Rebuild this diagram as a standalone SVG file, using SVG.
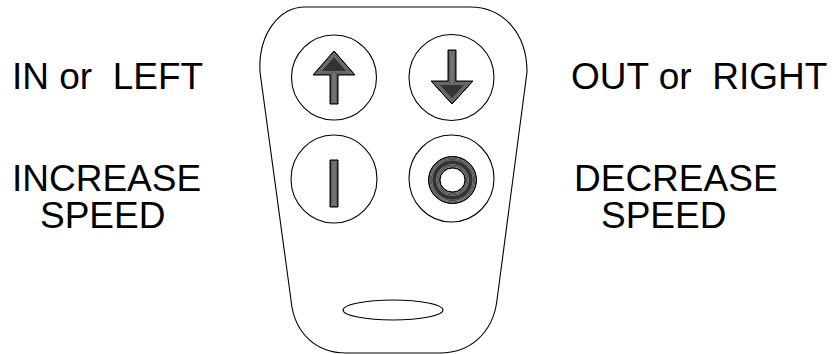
<svg xmlns="http://www.w3.org/2000/svg" xmlns:xlink="http://www.w3.org/1999/xlink" width="836" height="354" viewBox="0 0 836 354">
<style>
.lbl{font-family:"Liberation Sans",Arial,sans-serif;font-size:37px;fill:#000;white-space:pre}
.ol{fill:none;stroke:#000;stroke-width:1.1}
.icon{fill:#333}
.b1{fill:none;stroke:#999;stroke-width:7.6}
.b2{fill:none;stroke:#333;stroke-width:6.4}
.b3{fill:none;stroke:#999;stroke-width:5.2}
.b4{fill:none;stroke:#333;stroke-width:4}
.b5{fill:none;stroke:#999;stroke-width:2.8}
.b6{fill:none;stroke:#222;stroke-width:1.6}
.io{fill:none;stroke:#000;stroke-width:1}
</style>
<defs>
<path id="up" d="M334,51 L355,75 L338,75 L338,104 L330,104 L330,75 L313,75 Z"/>
<path id="down" d="M452,104 L473,81 L456,81 L456,50 L448,50 L448,81 L431,81 Z"/>
<path id="bar" d="M330,160 H338 V207 H330 Z"/>
<path id="ring" fill-rule="evenodd" d="M476.5,180 A24,23.5 0 1 1 428.5,180 A24,23.5 0 1 1 476.5,180 Z M465,180 A12.5,12 0 1 0 440,180 A12.5,12 0 1 0 465,180 Z"/>
<clipPath id="cUp"><use xlink:href="#up"/></clipPath>
<clipPath id="cDown"><use xlink:href="#down"/></clipPath>
<clipPath id="cBar"><use xlink:href="#bar"/></clipPath>
<clipPath id="cRing"><use xlink:href="#ring" clip-rule="evenodd"/></clipPath>
</defs>
<rect width="836" height="354" fill="#fff"/>
<g id="remote">
<path class="ol" d="M305,7 H470 C503,7 527,33 527,72 L497,300 C493,333 470,353 440,353 H346 C316,353 294,333 291,300 L260,72 C258,33 280,7 305,7 Z"/>
<ellipse class="ol" cx="393" cy="310" rx="50" ry="10"/>
</g>
<g id="btn-up">
<ellipse class="ol" cx="334" cy="77.5" rx="42.5" ry="42.5"/>
<g clip-path="url(#cUp)">
<use xlink:href="#up" class="icon"/>
<use xlink:href="#up" class="b1"/><use xlink:href="#up" class="b2"/><use xlink:href="#up" class="b3"/><use xlink:href="#up" class="b4"/><use xlink:href="#up" class="b5"/><use xlink:href="#up" class="b6"/>
</g>
<use xlink:href="#up" class="io"/>
</g>
<g id="btn-down">
<ellipse class="ol" cx="451.5" cy="77.5" rx="42.5" ry="43"/>
<g clip-path="url(#cDown)">
<use xlink:href="#down" class="icon"/>
<use xlink:href="#down" class="b1"/><use xlink:href="#down" class="b2"/><use xlink:href="#down" class="b3"/><use xlink:href="#down" class="b4"/><use xlink:href="#down" class="b5"/><use xlink:href="#down" class="b6"/>
</g>
<use xlink:href="#down" class="io"/>
</g>
<g id="btn-increase">
<ellipse class="ol" cx="334" cy="179" rx="43" ry="44"/>
<g clip-path="url(#cBar)">
<use xlink:href="#bar" class="icon"/>
<use xlink:href="#bar" class="b1"/><use xlink:href="#bar" class="b2"/><use xlink:href="#bar" class="b3"/><use xlink:href="#bar" class="b4"/><use xlink:href="#bar" class="b5"/><use xlink:href="#bar" class="b6"/>
</g>
<use xlink:href="#bar" class="io"/>
</g>
<g id="btn-decrease">
<ellipse class="ol" cx="451.5" cy="178.5" rx="42.5" ry="43.5"/>
<g clip-path="url(#cRing)">
<use xlink:href="#ring" class="icon"/>
<use xlink:href="#ring" class="b1"/><use xlink:href="#ring" class="b2"/><use xlink:href="#ring" class="b3"/><use xlink:href="#ring" class="b4"/><use xlink:href="#ring" class="b5"/><use xlink:href="#ring" class="b6"/>
</g>
<use xlink:href="#ring" class="io"/>
</g>
<g id="label-in-left"><text class="lbl" x="12" y="89" xml:space="preserve">IN or  LEFT</text></g>
<g id="label-out-right"><text class="lbl" x="571" y="89" xml:space="preserve">OUT or  RIGHT</text></g>
<g id="label-increase"><text class="lbl" x="12" y="191">INCREASE</text><text class="lbl" x="40" y="228">SPEED</text></g>
<g id="label-decrease"><text class="lbl" x="574" y="191">DECREASE</text><text class="lbl" x="601" y="228">SPEED</text></g>
<g id="connectors"/>
</svg>
